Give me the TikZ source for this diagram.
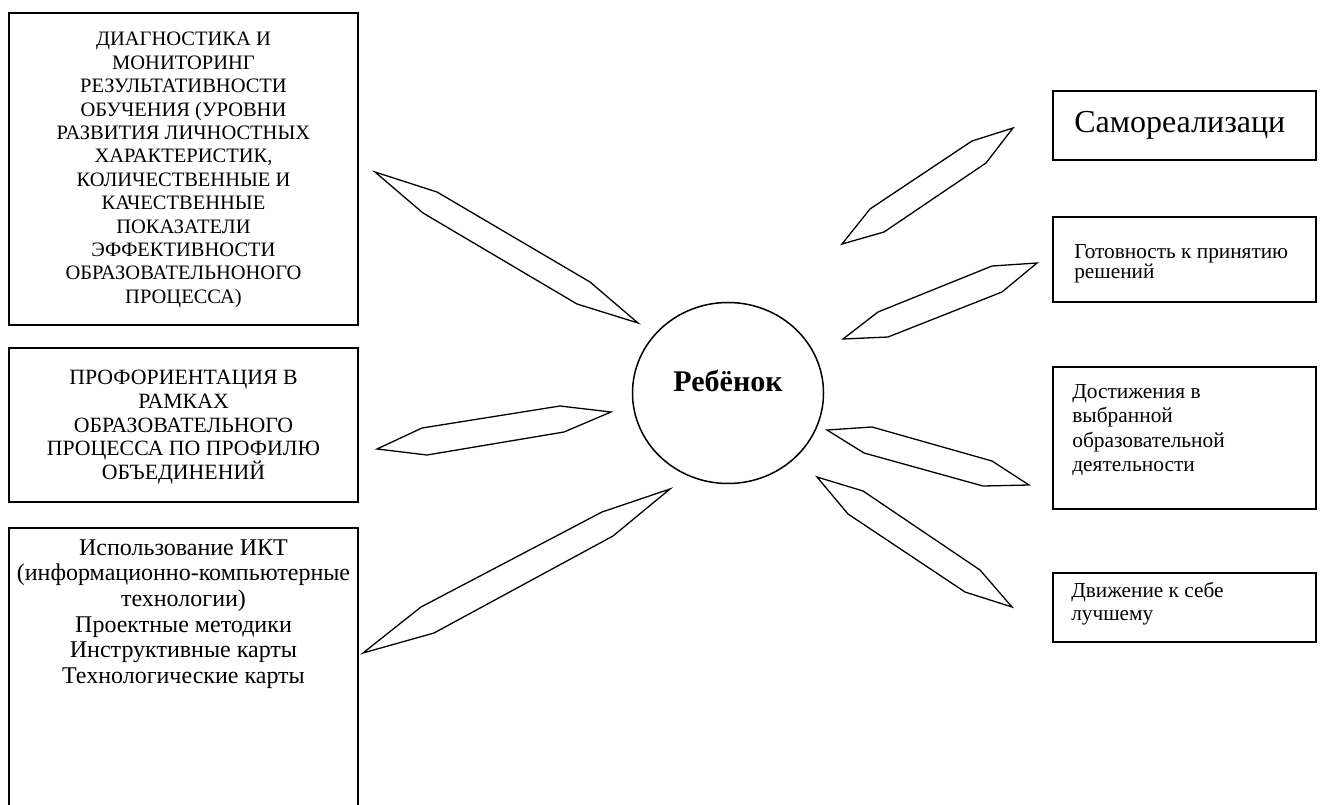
\documentclass[tikz,border=0pt]{standalone}
\usepackage{fontspec}
\setmainfont{Liberation Serif}
\usetikzlibrary{positioning, shapes.geometric}

\begin{document}
\begin{tikzpicture}[x=1pt, y=-1pt]
  \tikzstyle{ramka} = [rectangle, draw=black, line width=1.8pt, inner sep=0pt]
  \tikzstyle{tekst} = [inner sep=0pt, align=center]
  \tikzstyle{podpis} = [inner sep=0pt, align=left]
  \tikzstyle{strelka} = [draw=black, line width=1.3pt, line join=miter]
  \tikzstyle{krug} = [ellipse, draw=black, line width=1.5pt,
    minimum width=191pt, minimum height=181pt, inner sep=0pt]

  \useasboundingbox (0,0) rectangle (1322,805);

  % Левая колонка
  \node[ramka, minimum width=349pt, minimum height=312pt] (diag) at (183.5,169) {};
  \node[tekst, below=20pt of diag.north, font=\fontsize{20.5}{23.4}\selectfont] (diagtxt)
    {ДИАГНОСТИКА И\\МОНИТОРИНГ\\РЕЗУЛЬТАТИВНОСТИ\\ОБУЧЕНИЯ (УРОВНИ\\РАЗВИТИЯ ЛИЧНОСТНЫХ\\
     ХАРАКТЕРИСТИК,\\КОЛИЧЕСТВЕННЫЕ И\\КАЧЕСТВЕННЫЕ\\ПОКАЗАТЕЛИ\\ЭФФЕКТИВНОСТИ\\
     ОБРАЗОВАТЕЛЬНОНОГО\\ПРОЦЕССА)};

  \node[ramka, minimum width=349pt, minimum height=154pt] (prof) at (183.5,425) {};
  \node[tekst, below=23pt of prof.north, font=\fontsize{21.8}{23.7}\selectfont] (proftxt)
    {ПРОФОРИЕНТАЦИЯ В\\РАМКАХ\\ОБРАЗОВАТЕЛЬНОГО\\ПРОЦЕССА ПО ПРОФИЛЮ\\ОБЪЕДИНЕНИЙ};

  \node[ramka, minimum width=349pt, minimum height=282pt] (ikt) at (183.5,669) {};
  \node[tekst, below=12pt of ikt.north, font=\fontsize{24}{25.7}\selectfont] (ikttxt)
    {Использование ИКТ\\(информационно-компьютерные\\технологии)\\Проектные методики\\
     Инструктивные карты\\Технологические карты};

  % Центр
  \node[krug] (rebenok) at (728,393) {};
  \node[inner sep=0pt, font=\fontsize{30}{34}\selectfont\bfseries] (imya) at (728,381) {Ребёнок};

  % Правая колонка
  \node[ramka, minimum width=263pt, minimum height=69pt] (samo) at (1184.5,125.5) {};
  \node[podpis, below right=21pt and 22pt of samo.north west, font=\fontsize{32}{36}\selectfont] (samotxt)
    {Самореализаци};

  \node[ramka, minimum width=263pt, minimum height=85pt] (gotov) at (1184.5,259.5) {};
  \node[podpis, below right=28pt and 22pt of gotov.north west, font=\fontsize{21.3}{18}\selectfont] (gotovtxt)
    {Готовность к принятию\\решений};

  \node[ramka, minimum width=263pt, minimum height=142pt] (dost) at (1184.5,438) {};
  \node[podpis, below right=18pt and 20pt of dost.north west, font=\fontsize{21.4}{24.4}\selectfont] (dosttxt)
    {Достижения в\\выбранной\\образовательной\\деятельности};

  \node[ramka, minimum width=263pt, minimum height=69pt] (dvizh) at (1184.5,607.5) {};
  \node[podpis, below right=10pt and 19pt of dvizh.north west, font=\fontsize{21.3}{23.3}\selectfont] (dvizhtxt)
    {Движение к себе\\лучшему};

  % Стрелки
  \foreach \a/\b/\c/\d/\e/\f in {
      {(375,172)}/{(437,192)}/{(590,282)}/{(638,323)}/{(577,304)}/{(423,213)},
      {(377,449)}/{(422,428)}/{(560,406)}/{(611,412)}/{(564,432)}/{(427,455)},
      {(363,653)}/{(421,607)}/{(602,512)}/{(670,489)}/{(613,536)}/{(434,633)},
      {(842,244)}/{(870,209)}/{(972,141)}/{(1013,128)}/{(986,163)}/{(884,232)},
      {(843,339)}/{(878,312)}/{(992,266)}/{(1037,263)}/{(1002,292)}/{(888,337)},
      {(827,430)}/{(872,427)}/{(992,461)}/{(1029,485)}/{(983,486)}/{(864,453)},
      {(817,477)}/{(863,491)}/{(980,570)}/{(1012,607)}/{(965,592)}/{(848,514)}}
    \draw[strelka] \a -- \b -- \c -- \d -- \e -- \f -- cycle;
\end{tikzpicture}
\end{document}
